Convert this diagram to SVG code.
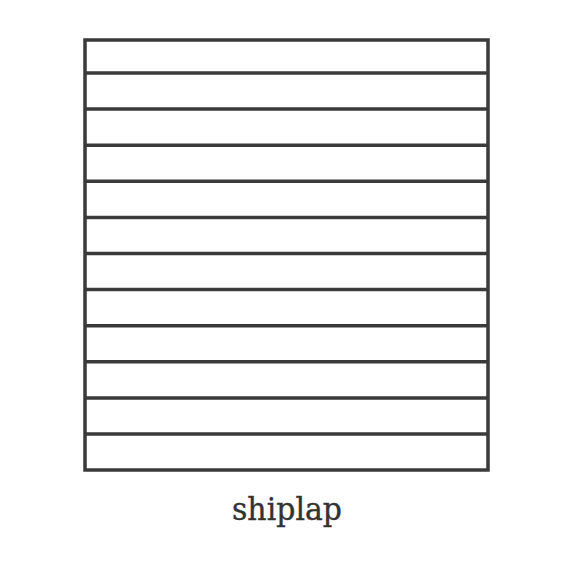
<svg xmlns="http://www.w3.org/2000/svg" width="570" height="570" viewBox="0 0 570 570">
<style>
.b{fill:none;stroke:#3a3a3a;stroke-width:3.5}
.l{stroke:#3a3a3a;stroke-width:3.5}
.t{font-family:"DejaVu Serif",serif;font-size:31px;fill:#333;stroke:#333;stroke-width:0.4;text-anchor:middle}
</style>
<rect width="570" height="570" fill="#fff"/>
<g id="wall">
<rect class="b" x="85" y="40" width="403" height="430"/>
<line class="l" x1="85" x2="488" y1="73" y2="73"/>
<line class="l" x1="85" x2="488" y1="109.1" y2="109.1"/>
<line class="l" x1="85" x2="488" y1="145.2" y2="145.2"/>
<line class="l" x1="85" x2="488" y1="181.3" y2="181.3"/>
<line class="l" x1="85" x2="488" y1="217.4" y2="217.4"/>
<line class="l" x1="85" x2="488" y1="253.5" y2="253.5"/>
<line class="l" x1="85" x2="488" y1="289.6" y2="289.6"/>
<line class="l" x1="85" x2="488" y1="325.7" y2="325.7"/>
<line class="l" x1="85" x2="488" y1="361.8" y2="361.8"/>
<line class="l" x1="85" x2="488" y1="397.9" y2="397.9"/>
<line class="l" x1="85" x2="488" y1="434" y2="434"/>
</g>
<text class="t" x="287" y="520" textLength="110" lengthAdjust="spacingAndGlyphs">shiplap</text>
</svg>
